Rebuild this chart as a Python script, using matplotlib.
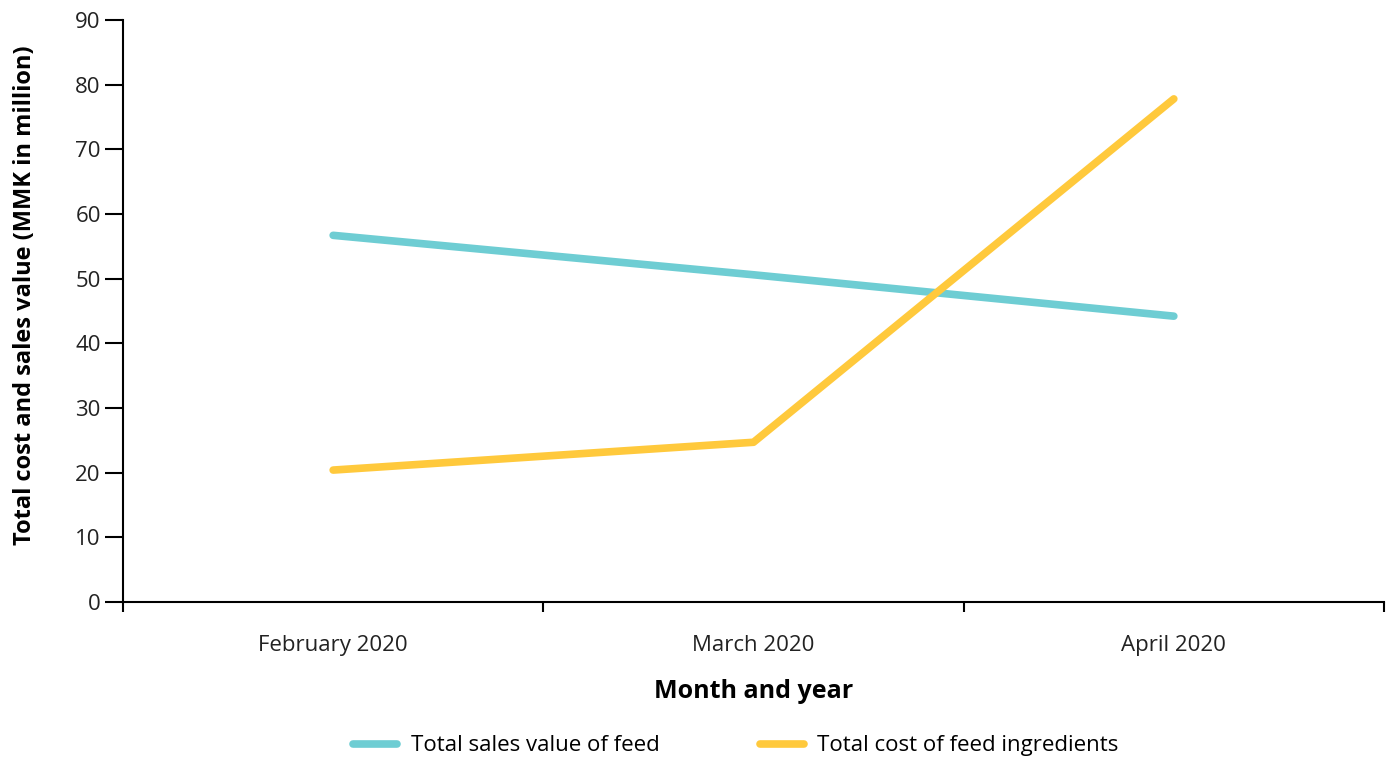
import matplotlib.pyplot as plt
import numpy as np

months = ["February 2020", "March 2020", "April 2020"]
salesValue = [56.7, 50.6, 44.2]
feedCost = [20.4, 24.7, 77.8]

plt.rcParams['font.family'] = ['Open Sans', 'DejaVu Sans']

my_dpi = 100
fig = plt.figure(figsize=(1396/my_dpi, 760/my_dpi), dpi=my_dpi)
ax1 = fig.add_axes([0.0881, 0.2079, 0.9033, 0.7658])

xData = np.arange(len(months))
ax1.plot(xData, salesValue, color="#6ECDD3", linewidth=5.5, solid_capstyle='round',
         label="Total sales value of feed")
ax1.plot(xData, feedCost, color="#FFC93C", linewidth=5.5, solid_capstyle='round',
         label="Total cost of feed ingredients")

ax1.set_xlim(-0.5, len(months) - 0.5)
ax1.set_ylim(0, 90)
ax1.set_yticks(np.arange(0, 91, 10))
ax1.set_xticks(np.arange(-0.5, len(months), 1.0))
ax1.set_xticklabels([])
ax1.set_xticks(xData, minor=True)
ax1.set_xticklabels(months, minor=True, fontsize=16, color="#222222")
ax1.tick_params(axis='x', which='major', length=7, width=1.5, direction='out')
ax1.tick_params(axis='x', which='minor', length=0, pad=24)
ax1.tick_params(axis='y', length=13, width=1.5, labelsize=16, labelcolor="#222222", pad=3)

for side in ['top', 'right']:
    ax1.spines[side].set_visible(False)
for side in ['left', 'bottom']:
    ax1.spines[side].set_linewidth(1.5)

ax1.set_xlabel("Month and year", fontsize=18, fontweight='bold', labelpad=16)
ax1.set_ylabel("Total cost and sales value (MMK in million)", fontsize=17,
               fontweight='bold')
ax1.yaxis.set_label_coords(-0.068, 0.527)

ax1.legend(loc='upper center', bbox_to_anchor=(0.486, -0.195), ncol=2, frameon=False,
           fontsize=16, handlelength=2.0, columnspacing=4.5, handletextpad=0.6)

fig.savefig("out.png", dpi=my_dpi)
